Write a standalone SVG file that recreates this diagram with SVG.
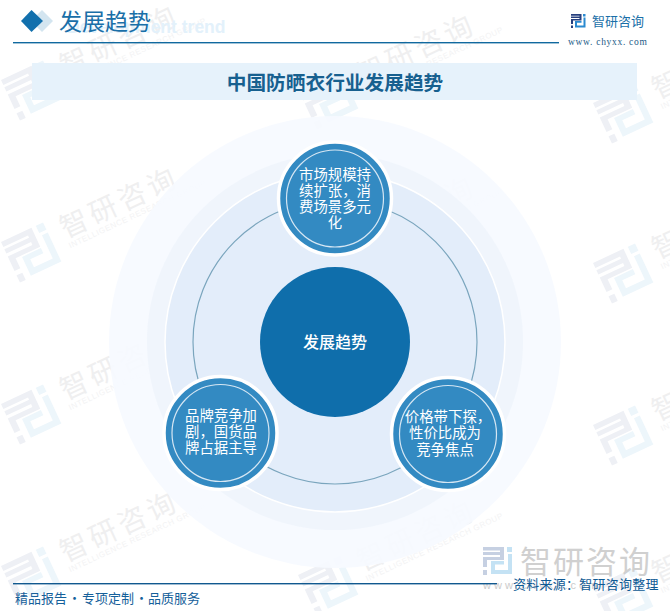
<svg xmlns="http://www.w3.org/2000/svg" xmlns:xlink="http://www.w3.org/1999/xlink" width="670" height="611" viewBox="0 0 670 611">
<style>
text{font-family:"Noto Sans CJK SC","Noto Sans",sans-serif}
.latin{font-family:"Liberation Sans",sans-serif}
.node{fill:#fff;font-size:14.4px;text-anchor:middle}
.sat{fill:#338ac2;stroke:#fff;stroke-width:3.5}
.inner{fill:none;stroke:#d5e6f3;stroke-width:1.2}
.wt{fill:#efeff0;font-size:28px;letter-spacing:4px}
.we{fill:#f3f3f4;font-family:"Liberation Sans",sans-serif;font-size:8px;letter-spacing:.55px}
</style>
<defs>
<g id="mark">
<path d="M0 0H21V13H4V20H0V10H17V8H0V5H17V3.5H0z M0 23H4V28H0z" fill="currentColor"/>
<path d="M24 0H29V5H24z M25 7H29V27H8V14H21V17.500H12V23H25z"/>
</g>
<g id="wm">
<g transform="scale(1.6)" color="#eef0f5" fill="#edf6fb"><use xlink:href="#mark"/></g>
<text class="wt" x="60" y="24">智研咨询</text>
<text class="we" x="60" y="35">INTELLIGENCE RESEARCH GROUP</text>
</g>
</defs>
<rect width="670" height="611" fill="#fff"/>
<g id="watermarks">
<use xlink:href="#wm" transform="translate(1,80) rotate(-25)"/>
<use xlink:href="#wm" transform="translate(1,242) rotate(-25)"/>
<use xlink:href="#wm" transform="translate(1,404) rotate(-25)"/>
<use xlink:href="#wm" transform="translate(1,566) rotate(-25)"/>
<use xlink:href="#wm" transform="translate(298,89) rotate(-25)"/>
<use xlink:href="#wm" transform="translate(298,251) rotate(-25)"/>
<use xlink:href="#wm" transform="translate(298,413) rotate(-25)"/>
<use xlink:href="#wm" transform="translate(298,575) rotate(-25)"/>
<use xlink:href="#wm" transform="translate(593,103) rotate(-25)"/>
<use xlink:href="#wm" transform="translate(593,263) rotate(-25)"/>
<use xlink:href="#wm" transform="translate(593,425) rotate(-25)"/>
<use xlink:href="#wm" transform="translate(593,587) rotate(-25)"/>
</g>
<g id="rings">
<circle cx="335" cy="342" r="226" fill="#f6faff" fill-opacity=".9"/>
<circle cx="335" cy="342" r="188" fill="#eff4fc" fill-opacity=".95"/>
<circle cx="335" cy="342" r="170" fill="#e3edfa" stroke="#fff" stroke-width="1.5"/>
</g>
<g id="header">
<text class="latin" x="67" y="32.500" font-size="17.500" font-weight="700" fill="#e3f1fb">Development trend</text>
<path d="M42 10L53 21L42 32L31 21z" fill="#d3e5f0"/>
<path d="M31.500 10L43 21L31.500 32L21 21z" fill="#1270ad"/>
<text x="59" y="30" font-size="23" fill="#1a6fa8">发展趋势</text>
<rect x="13" y="42" width="546" height="1.400" fill="#11699f"/>
<g transform="translate(571,14) scale(.5)" color="#27407f" fill="#2a8ad0"><use xlink:href="#mark"/></g>
<text x="592" y="26" font-size="13" fill="#1a6fa8">智研咨询</text>
<text x="568" y="44.500" font-size="9.500" letter-spacing=".7" fill="#1b5a86" style="font-family:'Liberation Serif',serif">www. chyxx. com</text>
</g>
<g id="title">
<rect x="32" y="63" width="605" height="37" fill="#e6f2fb"/>
<text x="335" y="90" font-size="19.700" font-weight="700" text-anchor="middle" fill="#17608f">中国防晒衣行业发展趋势</text>
</g>
<g id="connectors">
<circle cx="335" cy="342" r="142" fill="none" stroke="#7aa5bd" stroke-width="1.200"/>
</g>
<g id="node-center">
<circle cx="335" cy="342" r="75" fill="#0f6eab"/>
<text x="335" y="348" font-size="16" font-weight="500" fill="#fff" text-anchor="middle">发展趋势</text>
</g>
<g id="node-top">
<circle class="sat" cx="335" cy="198.500" r="56.500"/>
<circle class="inner" cx="335" cy="198.500" r="48.500"/>
<text class="node" x="335" y="180">市场规模持</text>
<text class="node" x="335" y="196">续扩张，消</text>
<text class="node" x="335" y="212">费场景多元</text>
<text class="node" x="335" y="228">化</text>
</g>
<g id="node-left">
<circle class="sat" cx="220.500" cy="433" r="56.500"/>
<circle class="inner" cx="220.500" cy="433" r="48.500"/>
<text class="node" x="221" y="421">品牌竞争加</text>
<text class="node" x="221" y="437">剧，国货品</text>
<text class="node" x="221" y="453">牌占据主导</text>
</g>
<g id="node-right">
<circle class="sat" cx="448" cy="434" r="56.500"/>
<circle class="inner" cx="448" cy="434" r="48.500"/>
<text class="node" x="448" y="422">价格带下探，</text>
<text class="node" x="445" y="438">性价比成为</text>
<text class="node" x="445" y="455">竞争焦点</text>
</g>
<g id="footer">
<g transform="translate(483,547)" color="#c6d0e2" fill="#c4e2f4"><use xlink:href="#mark"/></g>
<text x="520" y="573" font-size="31" letter-spacing="2" fill="#d0d0d0">智研咨询</text>
<text class="latin" x="483" y="589" font-size="11" letter-spacing="3" fill="#cccccc">www.chyxx.com</text>
<rect x="13" y="583" width="484" height="1.400" fill="#11598f"/>
<text y="603" font-size="13" fill="#15609a"><tspan x="15">精品报告</tspan><tspan x="68">·</tspan><tspan x="82">专项定制</tspan><tspan x="135">·</tspan><tspan x="148">品质服务</tspan></text>
<text x="513" y="589" font-size="13" letter-spacing=".25" fill="#0f5a94">资料来源：智研咨询整理</text>
</g>
</svg>
